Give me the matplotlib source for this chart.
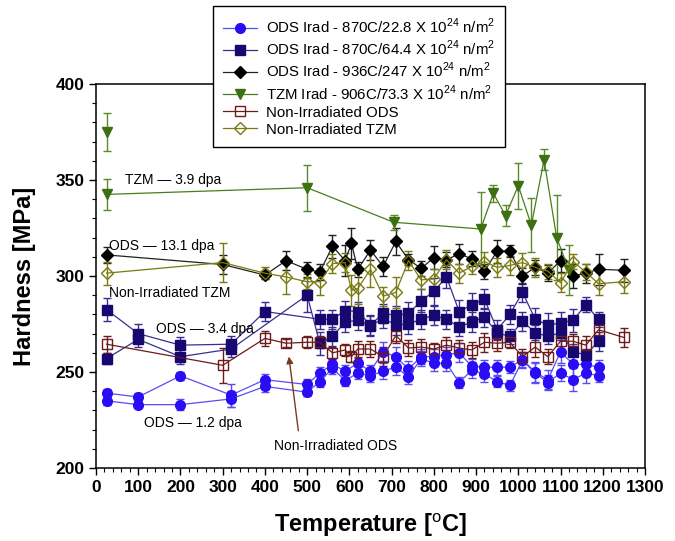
import numpy as np
import matplotlib
matplotlib.use('Agg')
import matplotlib.pyplot as plt
from matplotlib.ticker import MultipleLocator

plt.rcParams['font.family'] = ['Liberation Sans', 'DejaVu Sans']
plt.rcParams['mathtext.fontset'] = 'custom'
plt.rcParams['mathtext.rm'] = 'Liberation Sans'
plt.rcParams['mathtext.bf'] = 'Liberation Sans:bold'

# ---- data ----
# ODS Irad 870C/22.8 (1.2 dpa) - two measurement sets
ods1_T = [25, 100, 200, 320, 400, 500, 530, 560, 590, 620, 650, 680, 710, 740, 770,
          800, 830, 860, 890, 920, 950, 980, 1010, 1040, 1070, 1100, 1130, 1160, 1190]
ods1_a = [239, 237, 248, 238, 246, 243.5, 249.5, 254, 250.5, 254.5, 250.5, 260.5, 258, 251.5, 258,
          258, 259, 260, 253, 252.5, 252.5, 252.5, 256.5, 250, 246, 260.5, 254, 254, 252.5]
ods1_a_err = [2, 2, 2, 6, 3, 3, 3, 3, 3, 3, 3, 5, 5, 4, 4,
              4, 4, 5, 4, 4, 4, 3, 4, 5, 5, 6, 6, 5, 4]
ods1_b = [235, 233, 233, 236, 242.5, 239.5, 245, 252, 245.5, 249.5, 248, 250.5, 252.5, 247.5, 257,
          254.5, 254.5, 244.5, 251, 249, 245, 243, 256, 249.5, 244.5, 249.5, 246, 249.5, 248]
ods1_b_err = [2, 2, 3, 4, 3, 2, 3, 3, 3, 3, 3, 4, 4, 4, 4,
              4, 4, 3, 4, 4, 3, 3, 4, 5, 4, 4, 6, 5, 3]

# ODS Irad 870C/64.4 (3.4 dpa) - two measurement sets
ods2_a_T = [25, 100, 200, 320, 400, 530, 560, 590, 620, 650, 680, 710, 740, 770,
            800, 830, 860, 890, 920, 950, 980, 1010, 1040, 1070, 1100, 1130, 1160, 1190]
ods2_a = [282.5, 270, 264, 264.5, 281.5, 277.5, 277.5, 282, 281.5, 274.5, 280.5, 279.5, 280.5, 287,
          292, 299.5, 281.5, 285, 288, 272, 280, 291.5, 277.5, 274.5, 275.5, 277, 285, 277.5]
ods2_a_err = [6, 5, 4, 4, 5, 5, 5, 5, 5, 5, 5, 5, 6, 6,
              7, 6, 6, 6, 5, 5, 5, 5, 6, 6, 6, 6, 4, 4]
ods2_b_T = [25, 100, 200, 320, 500, 530, 560, 590, 620, 650, 680, 710, 740, 770,
            800, 830, 860, 890, 920, 950, 980, 1010, 1040, 1070, 1100, 1130, 1160, 1190]
ods2_b = [257, 267, 258, 262, 290, 265, 268.5, 276, 277, 274, 278, 274.5, 275, 277.5,
          279.5, 277.5, 273.5, 276, 278.5, 270.5, 268.5, 276.5, 270.5, 268.5, 270.5, 260.5, 259, 266]
ods2_b_err = [3, 4, 4, 4, 9, 6, 5, 5, 5, 5, 5, 5, 5, 5,
              5, 5, 5, 5, 5, 4, 4, 5, 4, 4, 4, 4, 3, 5]

# ODS Irad 936C/247 (13.1 dpa)
ods3_T = [25, 300, 400, 450, 500, 530, 560, 590, 605, 620, 650, 680, 710, 740, 770,
          800, 830, 860, 890, 920, 950, 980, 1010, 1040, 1070, 1100, 1130, 1160, 1190, 1250]
ods3 = [311, 306, 300.5, 308, 303.5, 302, 315.5, 308, 317, 303.5, 313.5, 305, 318, 308.5, 304,
        309.5, 308.5, 311.5, 309, 302.5, 313, 313, 300, 304.5, 301.5, 308, 300, 301.5, 303.5, 303]
ods3_err = [4, 5, 2, 5, 4, 4, 6, 8, 8, 4, 5, 5, 7, 3, 4,
            6, 4, 5, 4, 4, 6, 3, 4, 4, 4, 6, 6, 5, 8, 6]

# TZM Irad 906C/73.3 (3.9 dpa)
tzm_T = [25, 25, 500, 705, 911, 941, 970, 1000, 1031, 1061, 1091, 1120]
tzm = [375, 342.5, 346, 328, 324.5, 343, 331.5, 347, 326.5, 360.5, 320, 303]
tzm_err = [10, 8, 12, 4, 19, 4.5, 5.5, 12, 14, 5.5, 22, 13]

# Non-irradiated ODS
nods_T = [25, 300, 400, 450, 500, 530, 560, 590, 605, 620, 650, 680, 710, 740, 770,
          800, 830, 860, 890, 920, 950, 980, 1010, 1040, 1070, 1100, 1130, 1160, 1190, 1250]
nods = [264.5, 253.5, 267.5, 265, 265.5, 265.5, 260, 261.5, 258, 262, 262, 258, 269, 262.5, 263,
        262, 264, 262.5, 261.5, 265.5, 265, 265.5, 258, 263, 258, 266, 266, 264, 272, 268]
nods_err = [4.5, 9, 4, 2, 3, 3, 3, 3, 3, 4, 4, 5, 4, 4, 4,
            3, 4, 4, 4, 5, 4, 3, 4, 5, 4, 4, 4, 5, 3, 5]

# Non-irradiated TZM
ntzm_T = [25, 300, 400, 450, 500, 530, 560, 590, 605, 620, 650, 680, 710, 740, 770,
          800, 830, 860, 890, 920, 950, 980, 1010, 1040, 1070, 1100, 1130, 1160, 1190, 1250]
ntzm = [301.5, 307, 301.5, 299.5, 297, 297, 306.5, 307, 292.5, 293.5, 303.5, 289.5, 291.5, 308, 298,
        298.5, 308.5, 301.5, 305, 307.5, 304.5, 305.5, 307, 304.5, 302.5, 296.5, 307.5, 302, 296, 297]
ntzm_err = [6, 10, 3, 9, 4, 7, 5, 5, 8, 8, 9, 5, 8, 5, 5,
            5, 5, 5, 4, 5, 5, 5, 5, 5, 4, 5, 4, 4, 6, 6]

labels = ['ODS Irad - 870C/22.8 X 10$^{24}$ n/m$^{2}$',
          'ODS Irad - 870C/64.4 X 10$^{24}$ n/m$^{2}$',
          'ODS Irad - 936C/247 X 10$^{24}$ n/m$^{2}$',
          'TZM Irad - 906C/73.3 X 10$^{24}$ n/m$^{2}$',
          'Non-Irradiated ODS',
          'Non-Irradiated TZM']

fig = plt.figure(figsize=(6.75, 5.41), dpi=100)
ax = fig.add_axes([0.1422, 0.1349, 0.8133, 0.7098])


def series(x, y, err, mcol, lcol, marker, ms, label=None, open_=False):
    ax.errorbar(x, y, yerr=err, fmt='none', ecolor=lcol, elinewidth=1.0,
                capsize=3.2, capthick=1.0, zorder=2)
    mfc = 'none' if open_ else mcol
    ln, = ax.plot(x, y, color=lcol, lw=0.9, marker=marker, ms=ms, mfc=mfc,
                  mec=mcol, mew=1.0, label=label, zorder=3)
    return ln


h = []
h.append(series(ods1_T, ods1_a, ods1_a_err, '#2a0cf5', '#5b4cf2', 'o', 7, labels[0]))
series(ods1_T, ods1_b, ods1_b_err, '#2a0cf5', '#5b4cf2', 'o', 7)
h.append(series(ods2_a_T, ods2_a, ods2_a_err, '#160870', '#3a2e92', 's', 6.5, labels[1]))
series(ods2_b_T, ods2_b, ods2_b_err, '#160870', '#3a2e92', 's', 6.5)
h.append(series(ods3_T, ods3, ods3_err, 'black', '#222222', 'D', 6.5, labels[2]))
# TZM: the two 25C points are separate, the line starts at the lower one
ax.errorbar(tzm_T, tzm, yerr=tzm_err, fmt='none', ecolor='#5a8a2a', elinewidth=1.0,
            capsize=3.2, capthick=1.0, zorder=2)
ax.plot(tzm_T[:1], tzm[:1], ls='none', marker='v', ms=7.5, color='#3d7010', zorder=3)
h.append(ax.plot(tzm_T[1:], tzm[1:], color='#4a7d1f', lw=0.9, marker='v', ms=7.5,
                 mfc='#3d7010', mec='#3d7010', label=labels[3], zorder=3)[0])
h.append(series(nods_T, nods, nods_err, '#6b1b1b', '#6b1b1b', 's', 7, labels[4], open_=True))
h.append(series(ntzm_T, ntzm, ntzm_err, '#7a7a10', '#7a7a10', 'D', 6.5, labels[5], open_=True))

ax.set_xlim(0, 1300)
ax.set_ylim(200, 400)
ax.xaxis.set_major_locator(MultipleLocator(100))
ax.xaxis.set_minor_locator(MultipleLocator(20))
ax.yaxis.set_major_locator(MultipleLocator(50))
ax.yaxis.set_minor_locator(MultipleLocator(10))
ax.tick_params(which='major', direction='out', length=5, width=1, labelsize=12.5)
ax.tick_params(which='minor', direction='out', length=3, width=0.8)
for lab in ax.get_xticklabels() + ax.get_yticklabels():
    lab.set_fontweight('bold')
for s in ax.spines.values():
    s.set_linewidth(1.1)

ax.set_xlabel('Temperature [$^{\\mathrm{o}}$C]', fontsize=17, fontweight='bold', labelpad=12)
ax.set_ylabel('Hardness [MPa]', fontsize=17, fontweight='bold', labelpad=14)

# annotations
ax.text(68, 350, 'TZM \u2014 3.9 dpa', fontsize=10, va='center')
ax.text(31, 315.6, 'ODS \u2014 13.1 dpa', fontsize=10, va='center')
ax.text(31, 291.2, 'Non-Irradiated TZM', fontsize=10, va='center')
ax.text(142, 272.4, 'ODS \u2014 3.4 dpa', fontsize=10, va='center')
ax.text(114, 223.3, 'ODS \u2014 1.2 dpa', fontsize=10, va='center')
ax.text(422, 211.6, 'Non-Irradiated ODS', fontsize=10, va='center')
ax.annotate('', xy=(456, 259.5), xytext=(480, 218),
            arrowprops=dict(arrowstyle='-|>', color='#7b3b1b', lw=1.0, mutation_scale=10))

leg = fig.legend(handles=h, loc='upper left', bbox_to_anchor=(213 / 675, 1 - 6 / 541),
                 fontsize=10.8, frameon=True, fancybox=False, framealpha=1,
                 edgecolor='black', handlelength=2.2, labelspacing=0.2,
                 borderpad=0.7, borderaxespad=0, handletextpad=0.6)
leg.get_frame().set_linewidth(1.0)

fig.savefig('out.png', dpi=100)
